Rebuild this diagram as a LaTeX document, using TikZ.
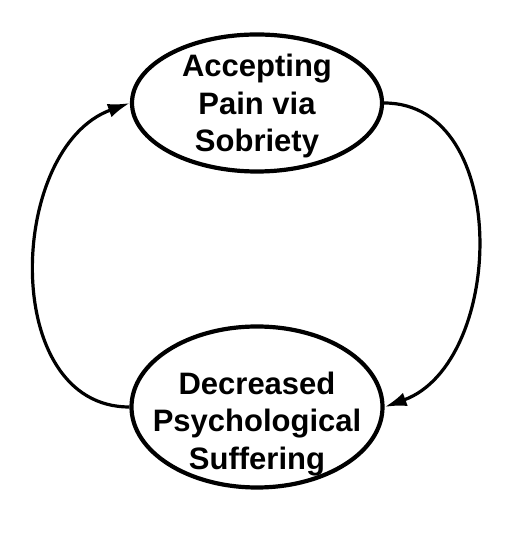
\documentclass[tikz,border=0pt]{standalone}
\usepackage{fontspec}
\setmainfont{Liberation Sans}
\usetikzlibrary{calc, shapes.geometric, arrows.meta}

\begin{document}
\begin{tikzpicture}[x=1pt, y=1pt,
el/.style = {% ellipses
    draw, ellipse, line width=4.2pt, inner sep=0pt,
            },
tx/.style = {% ellipse texts
    align=center, inner sep=0pt,
    font=\fontsize{31}{37.5}\selectfont\bfseries,
            },
ar/.style = {% loop arrows
    line width=3.2pt, -{Latex[length=22pt,width=14pt]},
            },
                        ]
\useasboundingbox (0,0) rectangle (515,545);
% ellipses
\node[el, minimum width=250pt, minimum height=137pt] (acc) at (257,442) {};
\node[el, minimum width=251pt, minimum height=161pt] (dec) at (257,138) {};
% texts
\node[tx] (acctext) at ($(acc.center)+(0,-3)$) {Accepting\\Pain via\\Sobriety};
\node[tx] (dectext) at ($(dec.center)+(0,-17)$) {Decreased\\Psychological\\Suffering};
% arrows
\draw[ar] (dec.west) to[out=180, in=200, looseness=1.1] (acc.west);
\draw[ar] (acc.east) to[out=0, in=20, looseness=1.08] (dec.east);
\end{tikzpicture}
\end{document}
